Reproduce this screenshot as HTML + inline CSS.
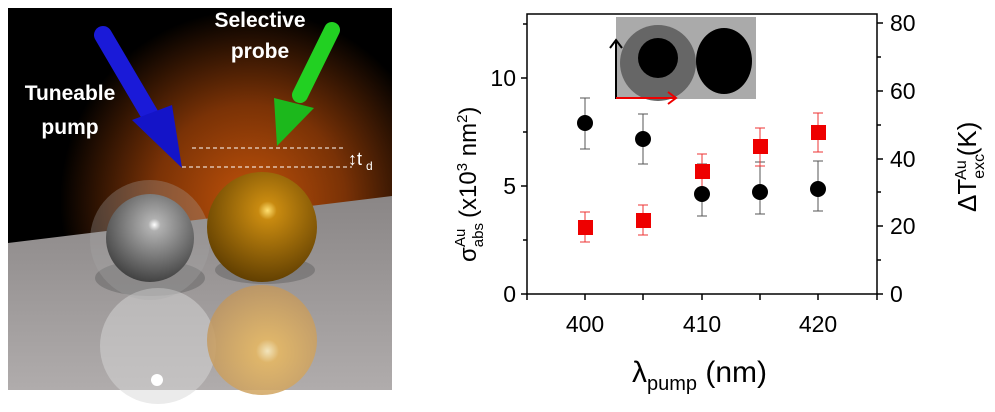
<!DOCTYPE html>
<html><head><meta charset="utf-8"><style>
body{margin:0;width:995px;height:412px;background:#fff;overflow:hidden;font-family:"Liberation Sans",sans-serif}
</style></head><body>
<svg width="995" height="412" viewBox="0 0 995 412" style="position:absolute;left:0;top:0">
<defs>
<radialGradient id="glow" cx="250" cy="200" r="190" gradientUnits="userSpaceOnUse">
<stop offset="0" stop-color="#c0520a"/><stop offset="0.5" stop-color="#7a3206"/><stop offset="1" stop-color="#000"/></radialGradient>
<linearGradient id="floor" x1="0" y1="0" x2="0" y2="1"><stop offset="0" stop-color="#8a8686"/><stop offset="1" stop-color="#b0acac"/></linearGradient>
<radialGradient id="silver" cx="0.55" cy="0.35" r="0.7"><stop offset="0" stop-color="#fff"/><stop offset="0.1" stop-color="#b0b0b0"/><stop offset="1" stop-color="#3a3a3a"/></radialGradient>
<radialGradient id="gold" cx="0.55" cy="0.35" r="0.7"><stop offset="0" stop-color="#ffe070"/><stop offset="0.12" stop-color="#c88a10"/><stop offset="1" stop-color="#5a3a00"/></radialGradient>
<radialGradient id="goldr" cx="0.55" cy="0.6" r="0.7"><stop offset="0" stop-color="#fff0c0"/><stop offset="0.15" stop-color="#e8b860"/><stop offset="1" stop-color="#b89060"/></radialGradient>
</defs>
<rect x="8" y="8" width="384" height="382" fill="url(#glow)"/>
<polygon points="8,243 392,196 392,390 8,390" fill="url(#floor)"/>
<ellipse cx="150" cy="278" rx="55" ry="18" fill="#555" opacity="0.4"/>
<ellipse cx="265" cy="270" rx="50" ry="14" fill="#555" opacity="0.4"/>
<circle cx="158" cy="346" r="58" fill="#d8d8d8" opacity="0.5"/>
<circle cx="157" cy="380" r="6" fill="#fff"/>
<circle cx="262" cy="340" r="55" fill="url(#goldr)" opacity="0.85"/>
<circle cx="150" cy="240" r="60" fill="#aaa" opacity="0.3"/>
<circle cx="150" cy="238" r="44" fill="url(#silver)"/>
<circle cx="262" cy="227" r="55" fill="url(#gold)"/>
<line x1="103" y1="35" x2="150" y2="115" stroke="#1a1ad8" stroke-width="18" stroke-linecap="round"/>
<polygon points="132,120 172,105 182,168" fill="#1414c8"/>
<line x1="332" y1="30" x2="300" y2="95" stroke="#22d022" stroke-width="16" stroke-linecap="round"/>
<polygon points="274,98 314,108 277,146" fill="#1cb81c"/>
<line x1="192" y1="148" x2="345" y2="148" stroke="#fff" stroke-dasharray="4,3"/>
<line x1="182" y1="167" x2="352" y2="167" stroke="#fff" stroke-dasharray="4,3"/>
<text x="348" y="165" fill="#fff" font-size="18">↕t</text><text x="366" y="170" fill="#fff" font-size="12">d</text>
<g fill="#fff" font-weight="bold" font-size="21" text-anchor="middle">
<text x="260" y="27">Selective</text><text x="260" y="58">probe</text>
<text x="70" y="100">Tuneable</text><text x="70" y="134">pump</text></g>

<rect x="616" y="17" width="140" height="82" fill="#aaa"/>
<circle cx="658" cy="63" r="38" fill="#666"/><circle cx="658" cy="58" r="20" fill="#000"/>
<ellipse cx="724" cy="61" rx="28" ry="33" fill="#000"/>
<line x1="616" y1="99" x2="616" y2="42" stroke="#000" stroke-width="2"/><polyline points="610,48 616,40 622,48" fill="none" stroke="#000" stroke-width="2"/>
<line x1="616" y1="98" x2="675" y2="98" stroke="#e00" stroke-width="2"/><polyline points="668,92 676,98 668,104" fill="none" stroke="#e00" stroke-width="2"/>
<g stroke="#000" stroke-width="1.5" fill="none">
<rect x="527" y="14" width="350" height="280"/>
<path d="M527,294v6M585,294v6M643,294v6M702,294v6M760,294v6M818,294v6M877,294v6M527,294h-6M527,240h-4M527,186h-6M527,132h-4M527,78h-6M527,24h-4M877,294h6M877,260h4M877,226h6M877,192h4M877,159h6M877,125h4M877,91h6M877,57h4M877,23h6"/>
</g>
<g font-size="23" fill="#000">
<g text-anchor="end"><text x="516" y="302">0</text><text x="516" y="194">5</text><text x="516" y="86">10</text></g>
<text x="890" y="302">0</text><text x="890" y="234">20</text><text x="890" y="167">40</text><text x="890" y="99">60</text><text x="890" y="31">80</text>
<g text-anchor="middle"><text x="585" y="332">400</text><text x="702" y="332">410</text><text x="818" y="332">420</text></g>
</g>
<text x="632" y="382" font-size="30">λ<tspan font-size="20" dy="8">pump</tspan><tspan dy="-8"> (nm)</tspan></text>
<text transform="translate(476,262) rotate(-90)" font-size="24">σ<tspan font-size="15" dy="7">abs</tspan><tspan font-size="15" dx="-24" dy="-18">Au</tspan><tspan dy="11" dx="4"> (x10</tspan><tspan font-size="15" dy="-9">3</tspan><tspan dy="9"> nm</tspan><tspan font-size="15" dy="-9">2</tspan><tspan dy="9">)</tspan></text>
<text transform="translate(976,212) rotate(-90)" font-size="26">ΔT<tspan font-size="16" dy="8">exc</tspan><tspan font-size="16" dx="-26" dy="-18">Au</tspan><tspan dy="10" dx="4">(K)</tspan></text>
<g stroke="#555" stroke-width="1">
<path d="M585,98v51M580,98h10M580,149h10M643,114v50M638,114h10M638,164h10M702,164v52M697,164h10M697,216h10M760,162v52M755,162h10M755,214h10M818,161v50M813,161h10M813,211h10"/></g>
<g stroke="#e33" stroke-width="1">
<path d="M585,212v30M580,212h10M580,242h10M643,205v30M638,205h10M638,235h10M702,154v34M697,154h10M697,188h10M760,128v38M755,128h10M755,166h10M818,113v39M813,113h10M813,152h10"/></g>
<g fill="#000"><circle cx="585" cy="123" r="8"/><circle cx="643" cy="139" r="8"/><circle cx="702" cy="194" r="8"/><circle cx="760" cy="192" r="8"/><circle cx="818" cy="189" r="8"/></g>
<g fill="#e00"><rect x="578" y="220" width="15" height="15"/><rect x="636" y="213" width="15" height="15"/><rect x="695" y="164" width="15" height="15"/><rect x="753" y="139" width="15" height="15"/><rect x="811" y="125" width="15" height="15"/></g>
</svg>
</body></html>
